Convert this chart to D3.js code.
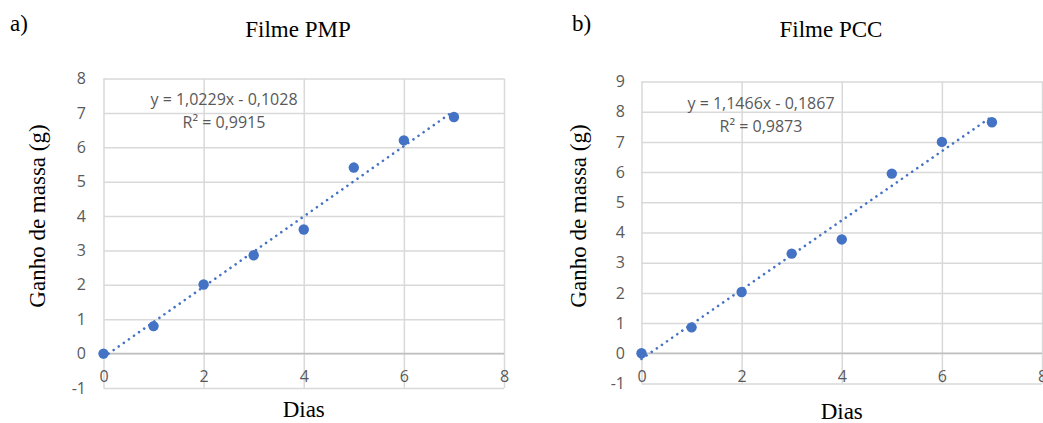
<!DOCTYPE html>
<html>
<head>
<meta charset="utf-8">
<script src="https://cdn.jsdelivr.net/npm/d3@7"></script>
<style>
  html, body { margin: 0; padding: 0; background: #ffffff; }
  svg { display: block; }
  .tick-label { font-family: "Open Sans", "Noto Sans", sans-serif; font-size: 16px; fill: #595959; }
  .eq-label { font-family: "Open Sans", "Noto Sans", sans-serif; font-size: 16px; fill: #595959; }
  .serif { font-family: "Liberation Serif", "DejaVu Serif", serif; fill: #000; }
</style>
</head>
<body>
<svg id="chart" width="1043" height="423"></svg>
<script>
// Days of the experiment (shared by both films)
const dias = [0, 1, 2, 3, 4, 5, 6, 7];

// Mass gain (g) per day
const ganhoPMP = [0, 0.80, 2.01, 2.86, 3.61, 5.41, 6.20, 6.88];
const ganhoPCC = [0, 0.86, 2.03, 3.30, 3.77, 5.95, 7.00, 7.65];

// Linear trend lines [slope, intercept] and their R²
const trendPMP = [1.0229, -0.1028];
const trendPCC = [1.1466, -0.1867];
const r2PMP = "0,9915";
const r2PCC = "0,9873";

// Axis tick labels
const xTicks = [0, 2, 4, 6, 8];
const yTicksPMP = [-1, 0, 1, 2, 3, 4, 5, 6, 7, 8];
const yTicksPCC = [-1, 0, 1, 2, 3, 4, 5, 6, 7, 8, 9];

const svg = d3.select("#chart");
const fmt = v => d3.format(".4f")(Math.abs(v)).replace(".", ",");
const plain = d => String(d);

function drawPanel(o) {
  const g = svg.append("g");
  const x = d3.scaleLinear().domain([0, 8]).range([o.left, o.right]);
  const y = d3.scaleLinear().domain([-1, o.yMax]).range([o.bottom, o.top]);

  // horizontal gridlines
  g.append("g")
    .attr("transform", `translate(${o.left},0)`)
    .call(d3.axisLeft(y).tickValues(o.yTicks).tickSize(-(o.right - o.left)).tickFormat(""))
    .call(s => s.select(".domain").remove())
    .call(s => s.selectAll("line").attr("stroke", "#d9d9d9").attr("stroke-width", 1.5));

  // vertical gridlines
  g.append("g")
    .attr("transform", `translate(0,${o.bottom})`)
    .call(d3.axisBottom(x).tickValues(xTicks).tickSize(-(o.bottom - o.top)).tickFormat(""))
    .call(s => s.select(".domain").remove())
    .call(s => s.selectAll("line").attr("stroke", "#d9d9d9").attr("stroke-width", 1.5));

  // horizontal axis line at zero
  g.append("line")
    .attr("x1", o.left).attr("x2", o.right)
    .attr("y1", y(0)).attr("y2", y(0))
    .attr("stroke", "#bfbfbf").attr("stroke-width", 1.5);

  // y tick labels
  g.append("g")
    .attr("transform", `translate(${o.left},0)`)
    .call(d3.axisLeft(y).tickValues(o.yTicks).tickSize(0).tickPadding(o.left - o.yLabelX).tickFormat(plain))
    .call(s => s.select(".domain").remove())
    .call(s => s.selectAll("text").attr("class", "tick-label").attr("fill", null));

  // x tick labels sit just below the zero line
  g.append("g")
    .attr("transform", `translate(0,${y(0)})`)
    .call(d3.axisBottom(x).tickValues(xTicks).tickSize(0).tickPadding(17).tickFormat(plain))
    .call(s => s.select(".domain").remove())
    .call(s => s.selectAll("text").attr("class", "tick-label").attr("fill", null));

  // dotted linear trend line
  const [m, b] = o.trend;
  g.append("path")
    .datum([0, 7])
    .attr("d", d3.line().x(d => x(d)).y(d => y(m * d + b)))
    .attr("fill", "none")
    .attr("stroke", "#4472c4")
    .attr("stroke-width", 2.6)
    .attr("stroke-linecap", "round")
    .attr("stroke-dasharray", "0.01 6.2");

  // data points
  g.append("g").selectAll("circle")
    .data(dias.map((d, i) => [d, o.values[i]]))
    .join("circle")
    .attr("cx", d => x(d[0]))
    .attr("cy", d => y(d[1]))
    .attr("r", 5.2)
    .attr("fill", "#4472c4");

  // trend equation and R²
  const eq = g.append("text").attr("class", "eq-label").attr("text-anchor", "middle");
  eq.append("tspan").attr("x", o.eqX).attr("y", o.eqY)
    .text(`y = ${fmt(m)}x ${b < 0 ? "-" : "+"} ${fmt(b)}`);
  eq.append("tspan").attr("x", o.eqX).attr("y", o.eqY + 23)
    .text(`R² = ${o.r2}`);

  // panel letter and title
  g.append("text").attr("class", "serif").attr("x", o.letterX).attr("y", 31)
    .attr("font-size", 23).text(o.letter);
  g.append("text").attr("class", "serif").attr("x", o.titleX).attr("y", 37)
    .attr("text-anchor", "middle").attr("font-size", 23).text(o.title);

  // axis titles
  g.append("text").attr("class", "serif")
    .attr("x", (o.left + o.right) / 2).attr("y", o.xTitleY)
    .attr("text-anchor", "middle").attr("font-size", 23).text("Dias");
  g.append("text").attr("class", "serif")
    .attr("transform", `translate(${o.yTitleX},216) rotate(-90)`)
    .attr("text-anchor", "middle").attr("font-size", 23).text("Ganho de massa (g)");
}

drawPanel({
  left: 103.5, right: 504, top: 78.5, bottom: 388, yMax: 8,
  yTicks: yTicksPMP, values: ganhoPMP, trend: trendPMP, r2: r2PMP,
  yLabelX: 86, eqX: 224, eqY: 105,
  letter: "a)", letterX: 10, title: "Filme PMP", titleX: 298,
  xTitleY: 417, yTitleX: 45
});

drawPanel({
  left: 641.5, right: 1042, top: 81.5, bottom: 383.5, yMax: 9,
  yTicks: yTicksPCC, values: ganhoPCC, trend: trendPCC, r2: r2PCC,
  yLabelX: 625, eqX: 761, eqY: 109,
  letter: "b)", letterX: 572, title: "Filme PCC", titleX: 831,
  xTitleY: 419, yTitleX: 586
});
</script>
</body>
</html>
